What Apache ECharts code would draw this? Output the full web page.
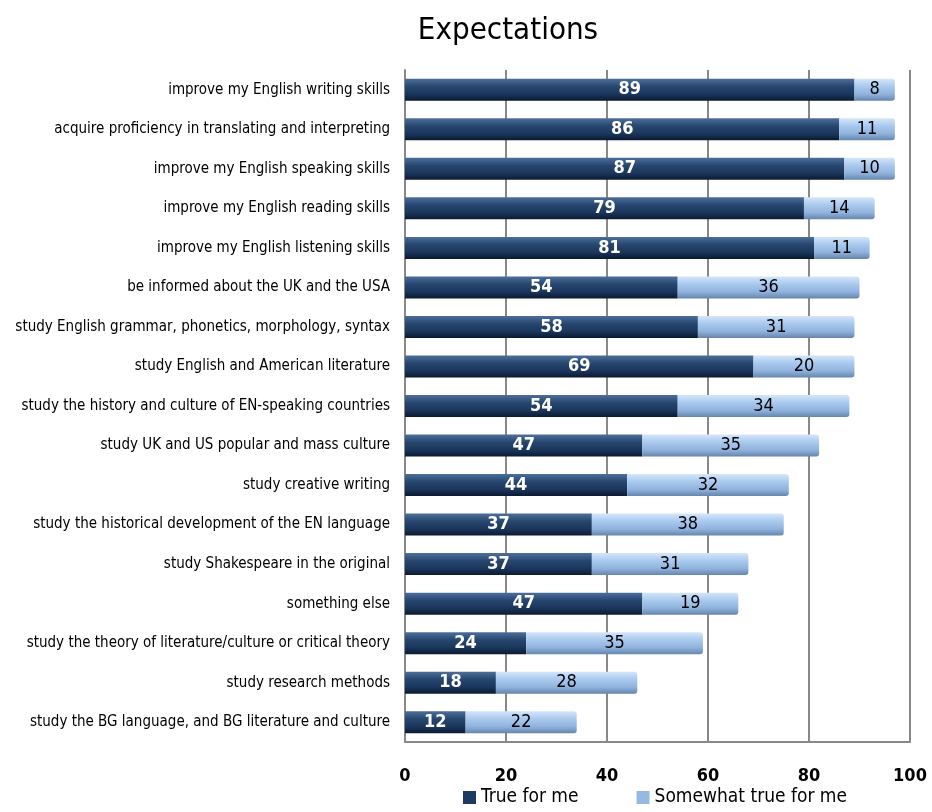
<!DOCTYPE html>
<html><head><meta charset="utf-8">
<script src="https://cdn.jsdelivr.net/npm/echarts@6/dist/echarts.min.js"></script>
<style>html,body{margin:0;padding:0;background:#fff}#c{width:932px;height:812px}</style>
</head><body><div id="c"></div>
<script>
const categories = [
 "improve my English writing skills",
 "acquire proficiency in translating and interpreting",
 "improve my English speaking skills",
 "improve my English reading skills",
 "improve my English listening skills",
 "be informed about the UK and the USA",
 "study English grammar, phonetics, morphology, syntax",
 "study English and American literature",
 "study the history and culture of EN-speaking countries",
 "study UK and US popular and mass culture",
 "study creative writing",
 "study the historical development of the EN language",
 "study Shakespeare in the original",
 "something else",
 "study the theory of literature/culture or critical theory",
 "study research methods",
 "study the BG language, and BG literature and culture"
];
const trueForMe = [89,86,87,79,81,54,58,69,54,47,44,37,37,47,24,18,12];
const somewhatTrue = [8,11,10,14,11,36,31,20,34,35,32,38,31,19,35,28,22];
const xTicks = [0,20,40,60,80,100];

const FONT = "'Liberation Sans Narrow','DejaVu Sans Condensed',sans-serif";
const darkGrad = new echarts.graphic.LinearGradient(0,0,0,1,[
  {offset:0,color:'#4d6f9c'},{offset:0.35,color:'#27476f'},{offset:0.7,color:'#1b365c'},{offset:1,color:'#0b1a30'}]);
const lightGrad = new echarts.graphic.LinearGradient(0,0,0,1,[
  {offset:0,color:'#d4e6fa'},{offset:0.35,color:'#a9c9ee'},{offset:0.7,color:'#90b3dd'},{offset:1,color:'#6585ad'}]);

const chart = echarts.init(document.getElementById('c'));
chart.setOption({
  animation:false,
  title:{text:'Expectations',left:503,top:10,textAlign:'center',
    textStyle:{fontFamily:FONT,fontSize:31,fontWeight:'normal',color:'#000'}},
  legend:{bottom:0,left:458,itemGap:58,itemWidth:13,itemHeight:13,icon:'rect',
    textStyle:{fontFamily:FONT,fontSize:19,color:'#000'},
    data:[{name:'True for me',itemStyle:{color:'#1f3a60'}},
          {name:'Somewhat true for me',itemStyle:{color:'#95b9e3'}}]},
  grid:{left:405,right:22,top:70,bottom:70,containLabel:false},
  xAxis:{type:'value',min:0,max:100,interval:20,
    axisLine:{show:true,lineStyle:{color:'#888',width:2}},
    axisTick:{show:false},
    splitLine:{show:true,lineStyle:{color:'#888',width:2}},
    axisLabel:{margin:25,fontFamily:FONT,fontSize:18,fontWeight:'bold',color:'#000',
      formatter:v=>xTicks.includes(v)?String(v):''}},
  yAxis:{type:'category',inverse:true,data:categories,
    axisLine:{show:true,lineStyle:{color:'#888',width:2}},
    axisTick:{show:false},
    axisLabel:{margin:15,fontFamily:FONT,fontSize:15,color:'#000'}},
  series:[
    {name:'True for me',type:'bar',stack:'a',data:trueForMe,barWidth:22,
     itemStyle:{color:darkGrad},
     label:{show:true,position:'inside',color:'#fff',fontFamily:FONT,fontSize:18,fontWeight:'bold'}},
    {name:'Somewhat true for me',type:'bar',stack:'a',data:somewhatTrue,barWidth:22,
     itemStyle:{color:lightGrad,borderRadius:[0,3,3,0]},
     label:{show:true,position:'inside',color:'#000',fontFamily:FONT,fontSize:18}}
  ]
});
</script></body></html>
